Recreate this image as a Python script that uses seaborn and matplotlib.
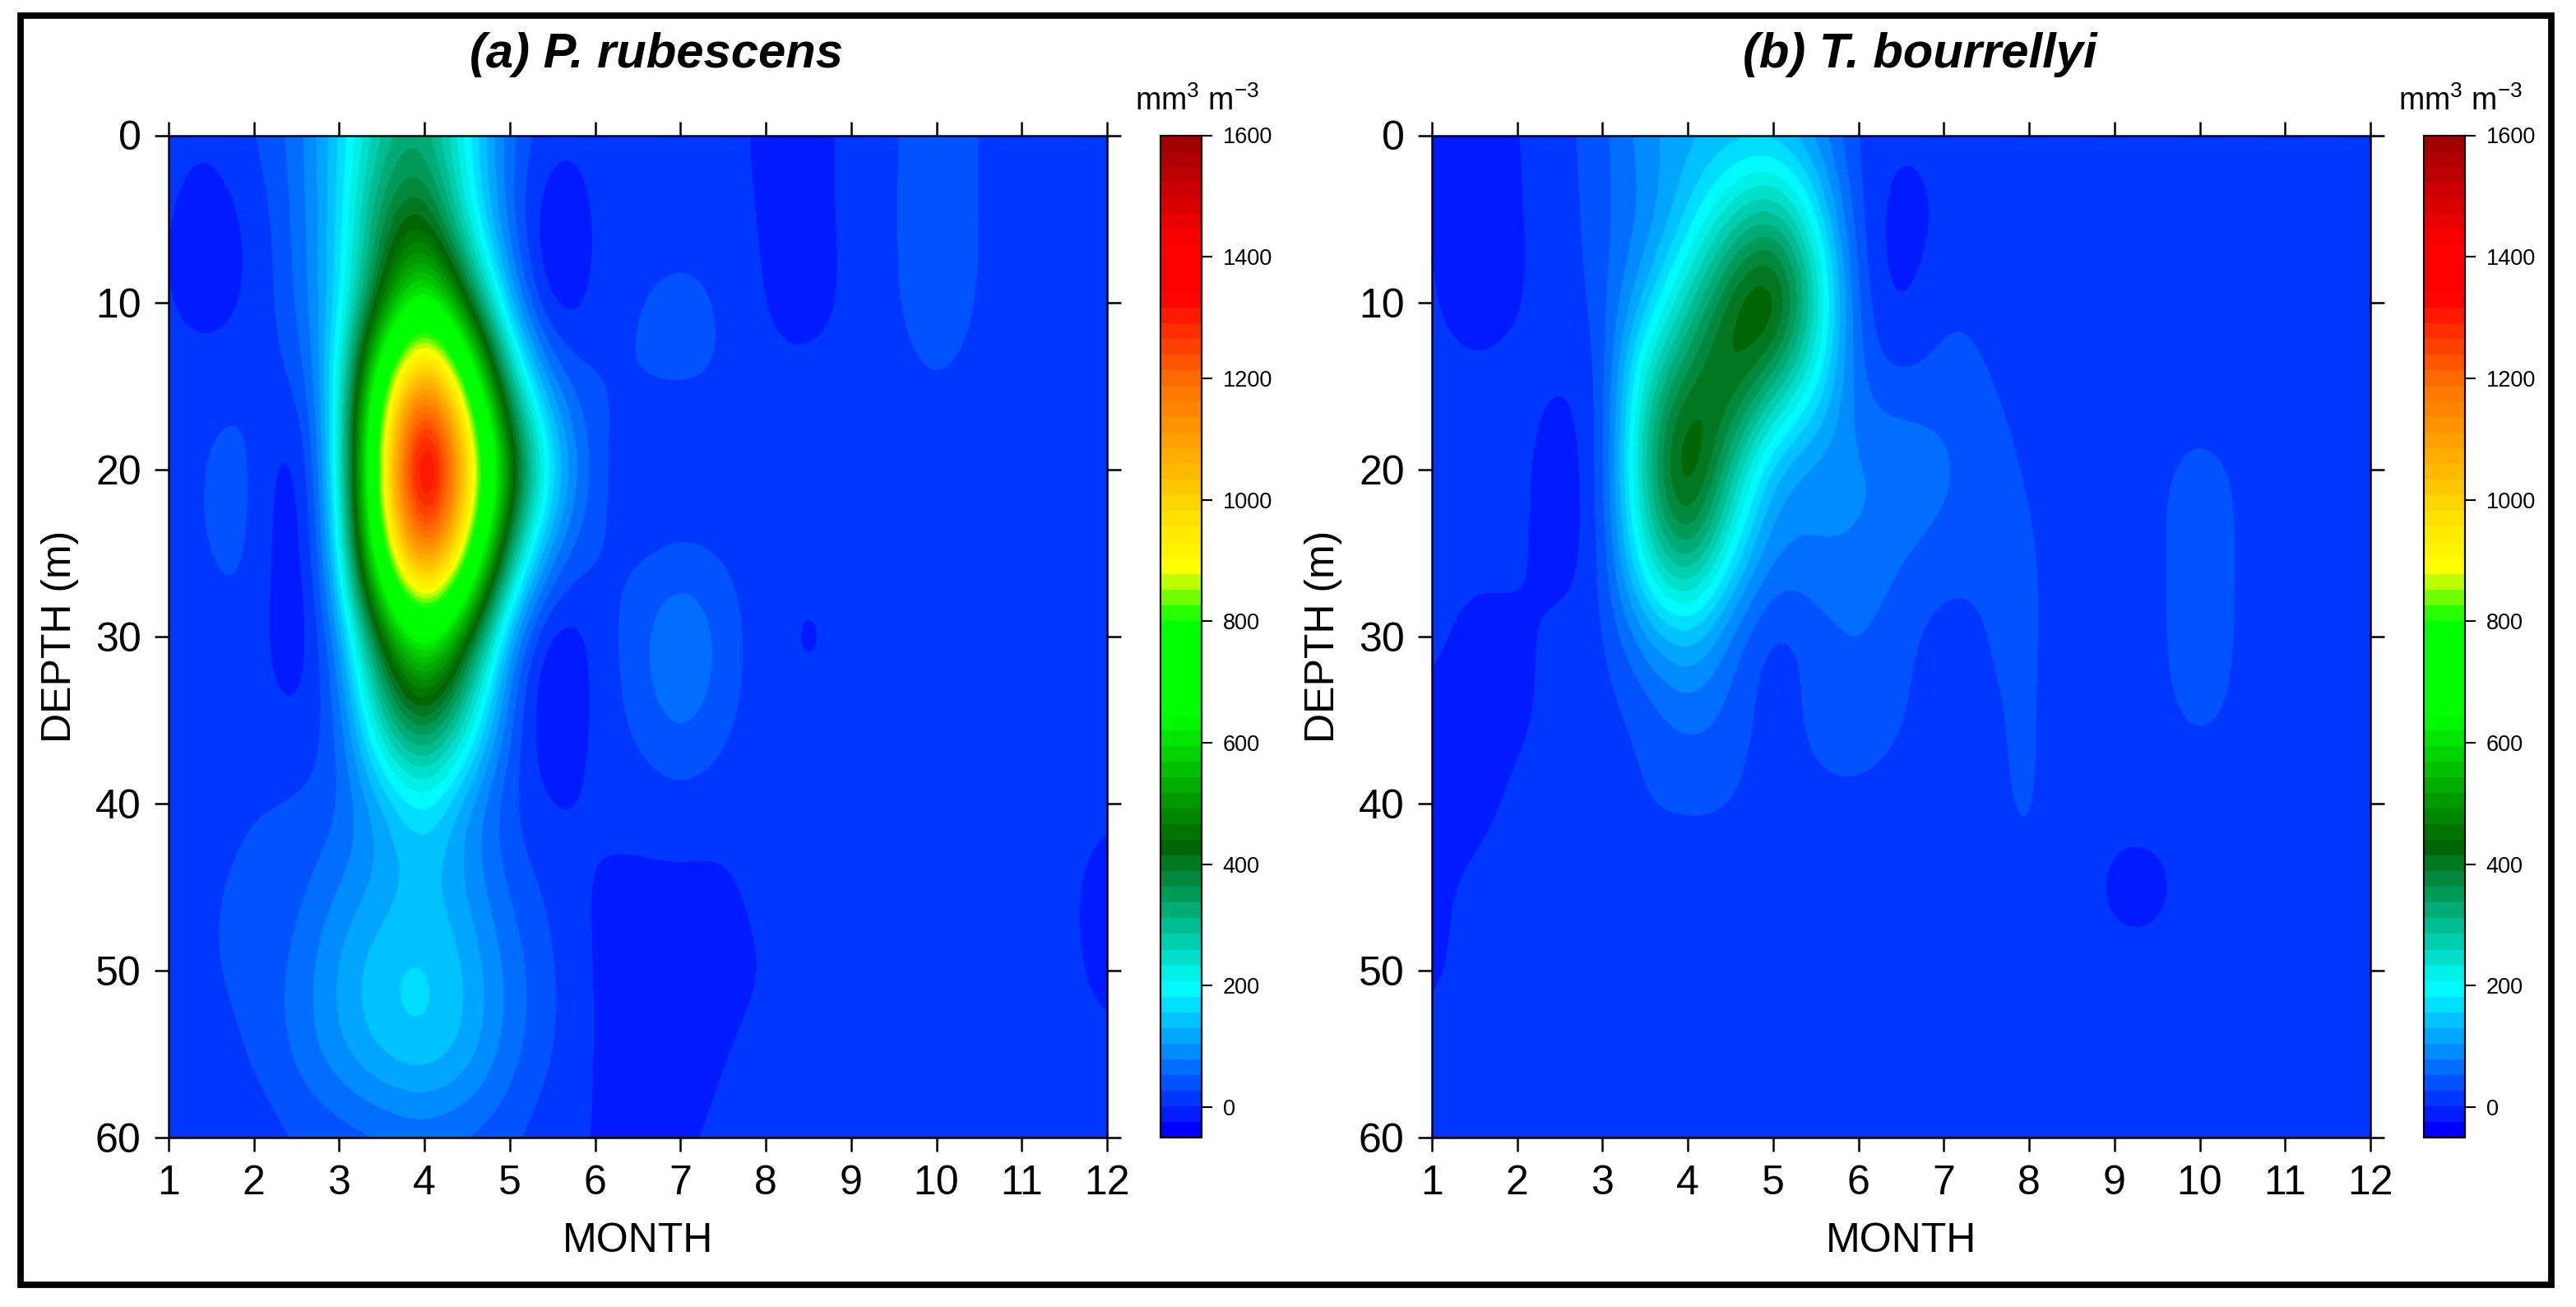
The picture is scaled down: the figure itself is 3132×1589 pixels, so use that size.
import numpy as np
import pandas as pd
import matplotlib
matplotlib.use('Agg')
import matplotlib.pyplot as plt
from matplotlib.colors import LinearSegmentedColormap
from matplotlib.patches import Rectangle
from matplotlib.transforms import ScaledTranslation
import seaborn as sns

W, H = 3132, 1589

months = [1, 1.5, 2, 2.5, 3, 3.5, 4, 4.5, 5, 5.5, 6, 6.5, 7, 7.5, 8, 8.5, 9, 9.5, 10, 10.5, 11, 11.5, 12]
depths = [0, 5, 10, 15, 20, 25, 30, 35, 40, 45, 50, 55, 60]
month_ticks = list(range(1, 13))
depth_ticks = [0, 10, 20, 30, 40, 50, 60]
cbar_ticks = [0, 200, 400, 600, 800, 1000, 1200, 1400, 1600]

# biovolume, one row per depth
rubescens = [
    [10, 5, 28, 60, 150, 290, 340, 190, 50, 10, 10, 10, 10, 10, -5, -5, 5, 28, 38, 28, 10, 10, 10],
    [5, -18, 5, 55, 150, 380, 440, 210, 45, -40, 10, 15, 18, 15, -5, -5, 5, 28, 40, 28, 10, 10, 10],
    [5, -18, 5, 50, 150, 420, 700, 400, 95, -40, 10, 30, 36, 30, -5, -10, 5, 28, 38, 28, 10, 10, 10],
    [10, 20, 25, 10, 165, 800, 1250, 820, 280, 70, 25, 30, 32, 28, 10, 10, 10, 20, 30, 20, 10, 10, 10],
    [10, 35, 38, -45, 165, 920, 1600, 1050, 500, 170, 30, 0, 0, 0, 5, 10, 10, 10, 10, 10, 10, 10, 10],
    [10, 32, 35, -45, 135, 800, 1300, 880, 300, 65, 25, 20, 30, 25, 10, 10, 10, 10, 10, 10, 10, 10, 10],
    [10, 15, 25, -40, 70, 420, 700, 420, 75, -40, 10, 45, 100, 45, 10, -10, 10, 10, 10, 10, 10, 10, 10],
    [10, 10, 15, 0, 30, 290, 430, 250, 40, -40, 10, 35, 70, 35, 10, 10, 10, 10, 10, 10, 10, 10, 10],
    [10, 20, 28, 30, 40, 110, 190, 90, 25, -5, 10, 10, 15, 10, 10, 10, 10, 10, 10, 10, 10, 10, 10],
    [10, 28, 30, 40, 80, 110, 140, 100, 45, 20, -5, -5, -5, -5, 10, 10, 10, 10, 10, 10, 10, 10, -15],
    [10, 28, 35, 60, 115, 160, 170, 135, 70, 30, -5, -5, -5, -5, 0, 10, 10, 10, 10, 10, 10, 10, -10],
    [10, 15, 30, 60, 105, 145, 165, 130, 65, 30, -5, -5, -5, 0, 10, 10, 10, 10, 10, 10, 10, 10, 10],
    [10, 10, 10, 25, 30, 40, 50, 40, 30, 5, 0, 0, 0, 5, 10, 10, 10, 10, 10, 10, 10, 10, 10],
]

bourrellyi = [
    [5, -15, 0, 20, 40, 100, 120, 130, 130, 90, 15, 5, 10, 10, 10, 10, 10, 10, 12, 10, 10, 10, 10],
    [5, -15, 0, 10, 45, 75, 150, 260, 330, 190, 15, -15, 5, 10, 10, 10, 10, 10, 10, 10, 10, 10, 10],
    [5, -15, 0, 10, 35, 130, 270, 430, 520, 280, 25, -15, 28, 20, 10, 10, 10, 10, 10, 10, 10, 10, 10],
    [10, 10, 10, 0, 8, 270, 400, 450, 310, 190, 45, 30, 40, 30, 15, 10, 10, 10, 12, 10, 10, 10, 10],
    [10, 10, 10, -15, 8, 310, 520, 300, 110, 80, 85, 85, 65, 40, 25, 12, 10, 24, 40, 24, 10, 10, 10],
    [10, 10, 10, -15, 8, 250, 380, 190, 70, 85, 80, 55, 40, 30, 34, 12, 10, 24, 40, 24, 10, 10, 10],
    [10, -10, -5, 10, 15, 90, 150, 60, 5, 35, 55, 35, 10, 30, 34, 12, 10, 24, 40, 24, 10, 10, 10],
    [-5, -10, -5, 10, 15, 30, 60, 45, 10, 40, 55, 30, 10, 22, 34, 12, 10, 22, 36, 22, 10, 10, 10],
    [-10, -10, 10, 10, 10, 30, 30, 30, 10, 18, 15, 10, 10, 22, 34, 12, 10, 10, 10, 10, 10, 10, 10],
    [-5, 10, 10, 10, 10, 10, 10, 10, 10, 10, 10, 10, 10, 12, 30, 10, -8, -8, 10, 10, 10, 10, 10],
    [-5, 10, 10, 10, 10, 10, 10, 10, 10, 10, 10, 10, 10, 10, 10, 10, 10, 10, 10, 10, 10, 10, 10],
    [10, 10, 10, 10, 10, 10, 10, 10, 10, 10, 10, 10, 10, 10, 10, 10, 10, 10, 10, 10, 10, 10, 10],
    [10, 10, 10, 10, 10, 10, 10, 10, 10, 10, 10, 10, 10, 10, 10, 10, 10, 10, 10, 10, 10, 10, 10],
]

# colour scale stops
VMIN, VMAX = -50, 1600
scale_values = [-50, 190, 425, 640, 800, 890, 975, 1200, 1345, 1430, 1600]
scale_colors = ['#0000ff', '#00ffff', '#006400', '#00ff00', '#00ff00', '#ffff00', '#ffe000',
                '#ff6e00', '#ff0000', '#ff0000', '#a00000']
stops = [(v - VMIN) / (VMAX - VMIN) for v in scale_values]
cmap = LinearSegmentedColormap.from_list('bloom', list(zip(stops, scale_colors)), N=64)

sns.set_theme(style='white')
plt.rcParams['font.family'] = ['Liberation Sans', 'DejaVu Sans']
plt.rcParams['mathtext.default'] = 'regular'
plt.rcParams['mathtext.fontset'] = 'custom'
plt.rcParams['mathtext.rm'] = 'Liberation Sans'

fig = plt.figure(figsize=(W / 100, H / 100), dpi=100, facecolor='white')


def box(x0, y0, x1, y1):
    # pixel box (top-left origin) to figure fractions
    return [x0 / W, 1 - y1 / H, (x1 - x0) / W, (y1 - y0) / H]


def draw_panel(values, title, offset):
    df = pd.DataFrame(values, index=depths, columns=months)
    ax = fig.add_axes(box(205 + offset, 164.5, 1346 + offset, 1383))
    cax = fig.add_axes(box(1411 + offset, 164.5, 1461 + offset, 1383))
    sns.heatmap(df, ax=ax, cbar_ax=cax, cmap=cmap, vmin=VMIN, vmax=VMAX)
    # same table, smoothed on screen only
    ax.imshow(df.values, cmap=cmap, vmin=VMIN, vmax=VMAX, interpolation='bicubic', aspect='auto',
              extent=(0, len(months), len(depths), 0), zorder=2)
    ax.set_xlim(0.5, len(months) - 0.5)
    ax.set_ylim(len(depths) - 0.5, 0.5)

    ax.set_xticks([months.index(m) + 0.5 for m in month_ticks])
    ax.set_xticklabels(month_ticks, rotation=0)
    ax.set_yticks([depths.index(d) + 0.5 for d in depth_ticks])
    ax.set_yticklabels(depth_ticks, rotation=0, va='center')
    ax.tick_params(axis='both', which='major', length=12, width=1.8, color='black', labelcolor='black',
                   labelsize=36, top=True, bottom=True, left=True, right=True, pad=12)
    # digits sit a little low against the ticks in the original
    shift = ScaledTranslation(0, -5 / 100, fig.dpi_scale_trans)
    for label in ax.get_yticklabels():
        label.set_transform(label.get_transform() + shift)
    for spine in ax.spines.values():
        spine.set_visible(True)
        spine.set_linewidth(1.8)
        spine.set_color('black')
        spine.set_zorder(5)
    ax.set_xlabel('MONTH', fontsize=36, color='black', labelpad=17)
    ax.set_ylabel('DEPTH (m)', fontsize=36, color='black', labelpad=14)

    cax.set_yticks(cbar_ticks)
    cax.tick_params(axis='y', length=9.5, width=1.5, labelsize=19.5, right=True, color='black',
                    labelcolor='black', pad=9)
    for spine in cax.spines.values():
        spine.set_visible(True)
        spine.set_linewidth(1.5)
        spine.set_color('black')

    fig.text((798 + offset) / W, 1 - 67 / H, title, fontsize=43, fontweight='bold', fontstyle='italic',
             ha='center', va='center', color='black')
    fig.text((1456 + offset) / W, 1 - 123 / H, r'mm$^{3}$ m$^{-3}$', fontsize=27, ha='center',
             va='center', color='black')


draw_panel(rubescens, '(a) P. rubescens', 0)
draw_panel(bourrellyi, '(b) T. bourrellyi', 1536)

fig.add_artist(Rectangle((25.5 / W, 1 - 1562 / H), (3102 - 25.5) / W, (1562 - 19) / H, transform=fig.transFigure,
                         fill=False, edgecolor='black', linewidth=5.6))

fig.savefig('out.png', dpi=100)
plt.close(fig)
